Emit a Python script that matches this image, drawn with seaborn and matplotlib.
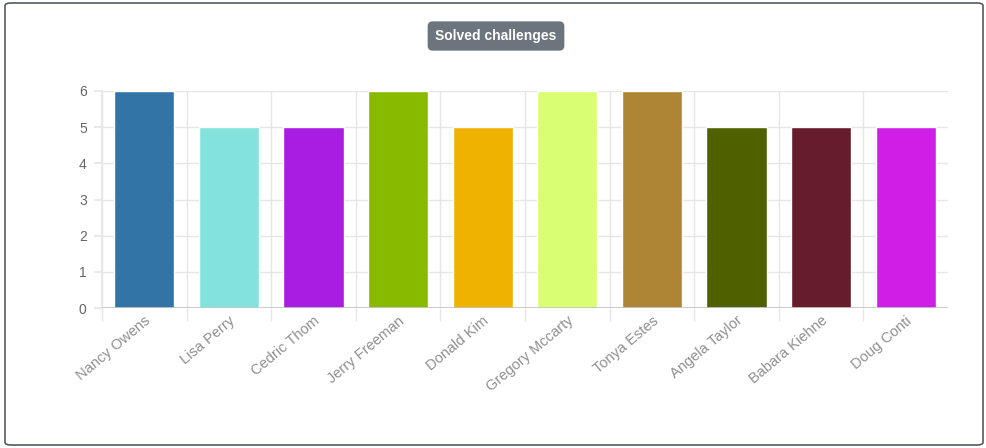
import numpy as np
import pandas as pd
import seaborn as sns
import matplotlib.pyplot as plt
from matplotlib.patches import FancyBboxPatch

names = ['Nancy Owens', 'Lisa Perry', 'Cedric Thom', 'Jerry Freeman', 'Donald Kim',
         'Gregory Mccarty', 'Tonya Estes', 'Angela Taylor', 'Babara Kiehne', 'Doug Conti']
solved = [6, 5, 5, 6, 5, 6, 6, 5, 5, 5]
bar_colors = ['#3274a6', '#83e2dc', '#a91ce2', '#88bb00', '#f0b200',
              '#d9fd73', '#ad8535', '#4f6000', '#661c2a', '#d01ee7']
y_ticks = [0, 1, 2, 3, 4, 5, 6]

df = pd.DataFrame({'name': names, 'solved': solved})

sns.set_theme(style='white')
plt.rcParams['font.family'] = ['Liberation Sans', 'DejaVu Sans']

fig = plt.figure(figsize=(9.86, 4.48), dpi=100)
ax = fig.add_axes([102 / 986, 1 - 308 / 448, 846 / 986, 217 / 448])

sns.barplot(data=df, x='name', y='solved', hue='name', palette=bar_colors,
            legend=False, width=0.71, saturation=1, ax=ax)

ax.set_ylim(0, 6)
ax.set_xlim(-0.5, len(names) - 0.5)
ax.set_yticks(y_ticks)
ax.set_xlabel('')
ax.set_ylabel('')

# grid lines chart.js style
boundaries = np.arange(-0.5, len(names) - 1, 1.0)
for y in y_ticks[1:]:
    ax.axhline(y, color='#e6e6e6', lw=1, zorder=0)
for x in boundaries:
    ax.axvline(x, color='#e6e6e6', lw=1, zorder=0)
ax.axhline(0, color='#c4c4c4', lw=1.2, zorder=3)

for s in ['top', 'right', 'bottom']:
    ax.spines[s].set_visible(False)
ax.spines['left'].set_color('#e6e6e6')

ax.set_xticks(boundaries, minor=True)
ax.tick_params(axis='x', which='minor', length=9, color='#e6e6e6', width=1, bottom=True)
ax.tick_params(axis='x', which='major', length=0, pad=4)
ax.tick_params(axis='y', length=6, color='#e6e6e6', left=True, pad=5)
ax.set_xticks(range(len(names)))
ax.set_xticklabels(names, rotation=40, ha='right', rotation_mode='anchor',
                   fontsize=10.5, color='#8f8f8f')
for lab in ax.get_yticklabels():
    lab.set_fontsize(10)
    lab.set_color('#666666')

# title badge
fig.text(496 / 986, 1 - 36 / 448, 'Solved challenges', ha='center', va='center',
         fontsize=10, fontweight='bold', color='white',
         bbox=dict(boxstyle='round,pad=0.55,rounding_size=0.35', fc='#6c757d', ec='none'))

# card border
fig.patches.append(FancyBboxPatch((5 / 986, 3 / 448), 978 / 986, 442 / 448,
                                  boxstyle='round,pad=0,rounding_size=0.006',
                                  transform=fig.transFigure, fill=False,
                                  ec='#555b61', lw=1.2))

fig.savefig('out.png', dpi=100)
